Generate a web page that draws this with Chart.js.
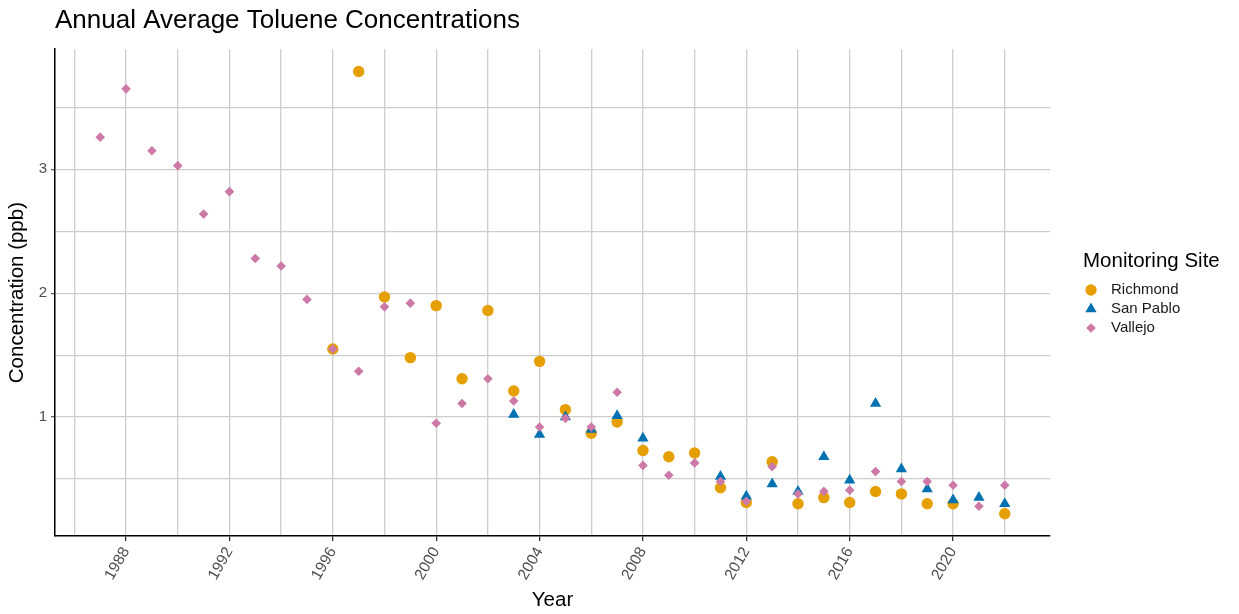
<!DOCTYPE html>
<html>
<head>
<meta charset="utf-8">
<script src="https://cdn.jsdelivr.net/npm/chart.js@4.4.1/dist/chart.umd.min.js"></script>
<style>
    html, body { margin: 0; padding: 0; background: #ffffff; }
    #wrap { width: 1239px; height: 614px; }
</style>
</head>
<body>
<div id="wrap"><canvas id="tolueneChart" width="1239" height="614"></canvas></div>
<script>
// ===== DATA =====
const vallejoYears = [1987, 1988, 1989, 1990, 1991, 1992, 1993, 1994, 1995, 1996, 1997, 1998,
    1999, 2000, 2001, 2002, 2003, 2004, 2005, 2006, 2007, 2008, 2009, 2010,
    2011, 2012, 2013, 2014, 2015, 2016, 2017, 2018, 2019, 2020, 2021, 2022];
const vallejoValues = [3.26, 3.65, 3.15, 3.03, 2.64, 2.82, 2.28, 2.22, 1.95, 1.55, 1.37, 1.89,
    1.92, 0.95, 1.11, 1.31, 1.13, 0.92, 0.99, 0.92, 1.20, 0.61, 0.53, 0.63,
    0.48, 0.32, 0.60, 0.38, 0.40, 0.41, 0.56, 0.48, 0.48, 0.45, 0.28, 0.45];

const richmondYears = [1996, 1997, 1998, 1999, 2000, 2001, 2002, 2003, 2004, 2005, 2006, 2007,
    2008, 2009, 2010, 2011, 2012, 2013, 2014, 2015, 2016, 2017, 2018, 2019, 2020, 2022];
const richmondValues = [1.55, 3.79, 1.97, 1.48, 1.90, 1.31, 1.86, 1.21, 1.45, 1.06, 0.87, 0.96,
    0.73, 0.68, 0.71, 0.43, 0.31, 0.64, 0.30, 0.35, 0.31, 0.40, 0.38, 0.30, 0.30, 0.22];

const sanPabloYears = [2003, 2004, 2005, 2006, 2007, 2008, 2011, 2012, 2013, 2014, 2015, 2016,
    2017, 2018, 2019, 2020, 2021, 2022];
const sanPabloValues = [1.02, 0.86, 1.00, 0.90, 1.01, 0.83, 0.52, 0.36, 0.46, 0.40, 0.68, 0.49,
    1.11, 0.58, 0.42, 0.33, 0.35, 0.30];

const xGridYears = [1986, 1988, 1990, 1992, 1994, 1996, 1998, 2000, 2002, 2004, 2006, 2008,
    2010, 2012, 2014, 2016, 2018, 2020, 2022];
const xTickLabels = [1988, 1992, 1996, 2000, 2004, 2008, 2012, 2016, 2020];
const yGridValues = [0.5, 1, 1.5, 2, 2.5, 3, 3.5];
const yTickLabels = [1, 2, 3];

const FONT = "'Liberation Sans', Arial, Helvetica, sans-serif";

function toPoints(years, values) {
    return years.map((y, i) => ({ x: y, y: values[i] }));
}

// ===== LEGEND (drawn by hand, ggplot style) =====
const siteLegend = {
    id: "siteLegend",
    afterDraw(chart) {
        const ctx = chart.ctx;
        ctx.save();
        ctx.fillStyle = "#000000";
        ctx.font = "20.5px " + FONT;
        ctx.textBaseline = "middle";
        ctx.textAlign = "left";
        ctx.fillText("Monitoring Site", 1083, 261);

        ctx.font = "15px " + FONT;
        chart.data.datasets.forEach((ds, k) => {
            const y = 290 + k * 19;
            ctx.fillStyle = ds.backgroundColor;
            Chart.helpers.drawPoint(ctx, {
                pointStyle: ds.pointStyle,
                radius: ds.pointRadius,
                rotation: 0,
                borderWidth: 0
            }, 1091, y);
            ctx.fillStyle = "#1a1a1a";
            ctx.fillText(ds.label, 1111, y);
        });
        ctx.restore();
    }
};

// ===== CHART =====
const ctx = document.getElementById("tolueneChart").getContext("2d");

new Chart(ctx, {
    type: "scatter",
    data: {
        datasets: [
            {
                label: "Richmond",
                data: toPoints(richmondYears, richmondValues),
                backgroundColor: "#E69F00",
                borderColor: "#E69F00",
                borderWidth: 0,
                pointStyle: "circle",
                pointRadius: 5.7,
                order: 3
            },
            {
                label: "San Pablo",
                data: toPoints(sanPabloYears, sanPabloValues),
                backgroundColor: "#0072B2",
                borderColor: "#0072B2",
                borderWidth: 0,
                pointStyle: "triangle",
                pointRadius: 6.5,
                order: 2
            },
            {
                label: "Vallejo",
                data: toPoints(vallejoYears, vallejoValues),
                backgroundColor: "#CC79A7",
                borderColor: "#CC79A7",
                borderWidth: 0,
                pointStyle: "rectRot",
                pointRadius: 4.8,
                order: 1
            }
        ]
    },
    options: {
        responsive: false,
        animation: false,
        layout: {
            padding: { left: 5, right: 189, top: 0, bottom: 0 }
        },
        plugins: {
            legend: { display: false },
            tooltip: { enabled: false },
            title: {
                display: true,
                text: "Annual Average Toluene Concentrations",
                align: "start",
                fullSize: false,
                color: "#000000",
                font: { family: FONT, size: 26, weight: "normal" },
                padding: { top: 5, bottom: 13 }
            }
        },
        scales: {
            x: {
                type: "linear",
                min: 1985.25,
                max: 2023.75,
                afterBuildTicks: scale => {
                    scale.ticks = xGridYears.map(v => ({ value: v }));
                },
                afterFit: scale => { scale.height = 78; },
                border: { display: true, color: "#000000", width: 1.5 },
                grid: {
                    color: "#cdcdcd",
                    lineWidth: 1.3,
                    drawTicks: true,
                    tickLength: 5,
                    tickColor: c => (xTickLabels.includes(c.tick.value) ? "#222222" : "rgba(0,0,0,0)"),
                    tickWidth: 1.2
                },
                ticks: {
                    autoSkip: false,
                    minRotation: 60,
                    maxRotation: 60,
                    padding: 3,
                    color: "#4d4d4d",
                    font: { family: FONT, size: 15.5 },
                    callback: v => (xTickLabels.includes(v) ? String(v) : "")
                },
                title: {
                    display: true,
                    text: "Year",
                    color: "#000000",
                    font: { family: FONT, size: 20.5 },
                    padding: { top: 0, bottom: 1 }
                }
            },
            y: {
                type: "linear",
                min: 0.04,
                max: 3.97,
                afterBuildTicks: scale => {
                    scale.ticks = yGridValues.map(v => ({ value: v }));
                },
                afterFit: scale => { scale.width = 50; },
                border: { display: true, color: "#000000", width: 1.5 },
                grid: {
                    color: "#cdcdcd",
                    lineWidth: 1.3,
                    drawTicks: true,
                    tickLength: 4,
                    tickColor: c => (yTickLabels.includes(c.tick.value) ? "#555555" : "rgba(0,0,0,0)"),
                    tickWidth: 1.2
                },
                ticks: {
                    autoSkip: false,
                    padding: 4,
                    color: "#4d4d4d",
                    font: { family: FONT, size: 15 },
                    callback: v => (yTickLabels.includes(v) ? String(v) : "")
                },
                title: {
                    display: true,
                    text: "Concentration (ppb)",
                    color: "#000000",
                    font: { family: FONT, size: 20.5 },
                    padding: { top: 0, bottom: 0 }
                }
            }
        }
    },
    plugins: [siteLegend]
});
</script>
</body>
</html>
